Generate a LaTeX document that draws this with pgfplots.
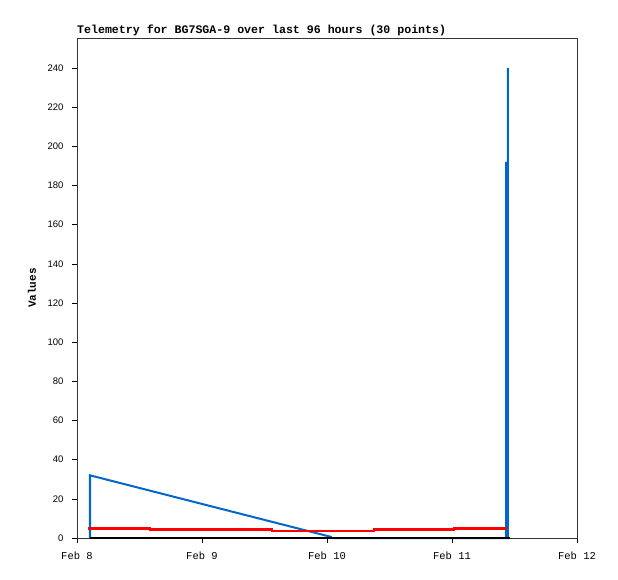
\documentclass[border=0pt]{standalone}
\usepackage{pgfplots}
\pgfplotsset{compat=1.18}
\usepackage{fontspec}
\setmainfont{Liberation Sans}
\newfontfamily\monofont{Liberation Mono}
\usetikzlibrary{calc}
\definecolor{tblue}{RGB}{0,102,204}
\definecolor{frame}{RGB}{51,51,51}
\begin{document}
\begin{tikzpicture}
\begin{axis}[
  name=ax,
  at={(0,0)}, anchor=south west,
  scale only axis, width=500pt, height=500pt,
  xmin=0, xmax=4, ymin=0, ymax=255.3,
  clip=false,
  axis line style={frame, line width=0.8pt},
  tick style={black, line width=0.6pt},
  tick align=outside, major tick length=5pt,
  xtick pos=bottom, ytick pos=left,
  xtick={0,1,2,3,4},
  xticklabels={Feb 8,Feb 9,Feb 10,Feb 11,Feb 12},
  ytick={0,20,...,240},
  x tick label style={font=\monofont\fontsize{10.5}{12}\selectfont, yshift=-5pt},
  y tick label style={font=\fontsize{9.5}{10}\selectfont, xshift=-5pt},
  /pgf/number format/assume math mode=true,
  ylabel={\monofont\bfseries\fontsize{11}{12}\selectfont Values},
  ylabel style={at={(axis description cs:-0.09,0.5)}, anchor=center, rotate=0},
  title={\monofont\bfseries\fontsize{11.6}{12}\selectfont Telemetry for BG7SGA-9 over last 96 hours (30 points)},
  title style={at={(axis description cs:0,1)}, anchor=base west, inner sep=0pt, yshift=-2pt},
]
\addplot[tblue, line width=2pt, line join=miter] coordinates {
  (0.104,0) (0.104,32) (2.03,0.6) (2.04,0) (3.432,0) (3.432,192) (3.432,0) (3.446,0) (3.446,240) (3.446,0)
};
\addplot[red, line width=2.2pt, const plot] coordinates {
  (0.088,4.85) (0.584,4.34) (1.56,3.7) (2.376,4.3) (3.016,4.85) (3.44,4.85)
};
\addplot[black, line width=2pt] coordinates {
  (0.104,0) (3.46,0)
};
\end{axis}
\path ($(ax.south west)+(-77pt,-41pt)$) rectangle ($(ax.north east)+(41pt,38pt)$);
\end{tikzpicture}
\end{document}
